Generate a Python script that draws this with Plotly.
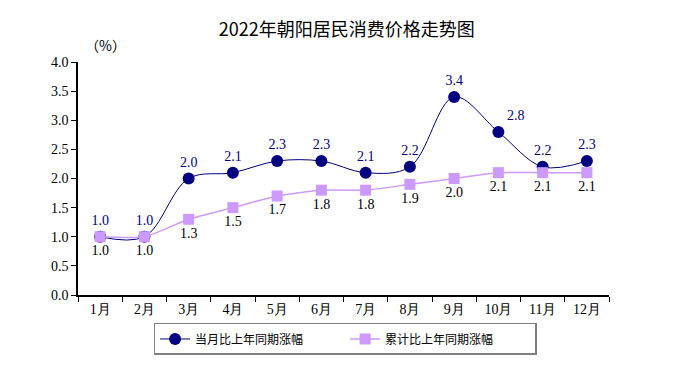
import plotly.graph_objects as go

months = ["1月", "2月", "3月", "4月", "5月", "6月", "7月", "8月", "9月", "10月", "11月", "12月"]
monthly = [1.0, 1.0, 2.0, 2.1, 2.3, 2.3, 2.1, 2.2, 3.4, 2.8, 2.2, 2.3]
cumulative = [1.0, 1.0, 1.3, 1.5, 1.7, 1.8, 1.8, 1.9, 2.0, 2.1, 2.1, 2.1]
name_monthly = "当月比上年同期涨幅"
name_cum = "累计比上年同期涨幅"
yticks = [0, 0.5, 1.0, 1.5, 2.0, 2.5, 3.0, 3.5, 4.0]

serif = "Liberation Serif, Times New Roman, serif"
cjk = "Noto Sans CJK SC"

pos1 = ["top center"] * 12
pos1[9] = "top right"

fig = go.Figure()
fig.add_trace(go.Scatter(
    x=months, y=monthly, name=name_monthly, mode="lines+markers+text",
    line=dict(color="#000080", width=1, shape="spline", smoothing=1.0),
    marker=dict(symbol="circle", size=12, color="#000080"),
    text=[f"{v:.1f}" for v in monthly], textposition=pos1,
    textfont=dict(family=serif, size=14, color="#000080"),
    cliponaxis=False,
))
fig.add_trace(go.Scatter(
    x=months, y=cumulative, name=name_cum, mode="lines+markers+text",
    line=dict(color="#CC99FF", width=1.5, shape="spline", smoothing=0.6),
    marker=dict(symbol="square", size=11, color="#CC99FF"),
    text=[f"{v:.1f}" for v in cumulative], textposition="bottom center",
    textfont=dict(family=serif, size=14, color="#000000"),
    cliponaxis=False,
))

fig.update_layout(
    width=683, height=374,
    margin=dict(l=70, r=82, t=54, b=87, autoexpand=False),
    paper_bgcolor="white", plot_bgcolor="white",
    title=dict(text="2022年朝阳居民消费价格走势图", x=0.496, xanchor="center", y=0.941, yanchor="middle",
               font=dict(family=cjk, size=18, color="#000000")),
    showlegend=True,
    legend=dict(orientation="h", x=0.503, xanchor="center", y=-0.12, yanchor="top",
                bordercolor="#808080", borderwidth=1.5,
                font=dict(family=cjk, size=12, color="#000000"),
                entrywidth=145, entrywidthmode="pixels",
                tracegroupgap=0),
    xaxis=dict(type="category", range=[-0.5, 11.5], tickson="boundaries",
               showline=True, linecolor="#000000", linewidth=1.5,
               ticks="outside", ticklen=5, tickcolor="#000000",
               showgrid=False, zeroline=False, automargin=False,
               tickfont=dict(family=serif, size=14, color="#000000")),
    yaxis=dict(range=[0, 4.0], tickvals=yticks, ticktext=[f"{v:.1f}" for v in yticks],
               showline=True, linecolor="#000000", linewidth=1.5,
               ticks="outside", ticklen=5, tickcolor="#000000",
               showgrid=False, zeroline=False, automargin=False,
               tickfont=dict(family=serif, size=14, color="#000000")),
    annotations=[dict(text="（%）", xref="paper", yref="paper", x=0.051, y=1.073,
                      xanchor="center", yanchor="middle", showarrow=False,
                      font=dict(family=cjk, size=14, color="#000000"))],
)

fig.write_html("out.html")
